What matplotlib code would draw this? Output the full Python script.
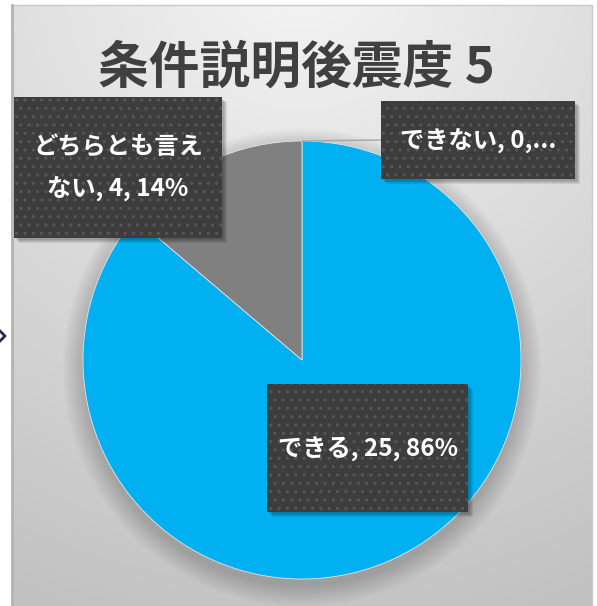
import matplotlib.pyplot as plt
import numpy as np
from matplotlib.patches import Rectangle, Circle, ConnectionPatch

plt.rcParams['font.family'] = ['Noto Sans CJK JP', 'DejaVu Sans']

# データ
title = '条件説明後震度 5'
categories = ['できない', 'できる', 'どちらとも言えない']
counts = [0, 25, 4]
colors = ['#FFC000', '#00B0F0', '#808080']

total = sum(counts)
percents = [round(c / total * 100) for c in counts]

fig = plt.figure(figsize=(5.97, 6.06), dpi=100)

# 背景 (ピクセル座標)
bg = fig.add_axes([0, 0, 1, 1])
bg.set_xlim(0, 597)
bg.set_ylim(606, 0)
bg.axis('off')

yy, xx = np.mgrid[0:606, 12:592]
r = np.hypot(xx - 300, (yy + 40) * 1.0) / 650
grad = np.clip(0.96 - 0.19 * r, 0, 1)
bg.imshow(np.dstack([grad] * 3), extent=[12, 592, 606, 5], aspect='auto', zorder=0)
bg.add_patch(Rectangle((12, 5), 580, 601, fill=False, ec='#c8c8c8', lw=1, zorder=1))
bg.plot([12, 12], [5, 606], color='#b4b4b4', lw=2, zorder=1)
bg.plot([0, 5, 0], [331, 336, 341], color='#1f2d4d', lw=2, zorder=1)

bg.text(296, 68, title, ha='center', va='center', fontsize=36.5,
        fontweight='bold', color='#404040', zorder=2)

# 円グラフ
cx, cy, rad = 302, 360, 219
pad = 1.15
ax = fig.add_axes([(cx - rad * pad) / 597, (606 - cy - rad * pad) / 606,
                   2 * rad * pad / 597, 2 * rad * pad / 606])
ax.axis('off')

# 影
for k in range(10):
    ax.add_patch(Circle((0.0, -0.035), 1.0 + 0.01 * k, color='black',
                        alpha=0.018, lw=0, zorder=0))

ax.pie(counts, colors=colors, startangle=90, counterclock=False, radius=1,
       wedgeprops=dict(edgecolor='#e4e4e4', linewidth=0.6), frame=False)
ax.set_xlim(-pad, pad)
ax.set_ylim(-pad, pad)

# ラベル用の前面レイヤー
top = fig.add_axes([0, 0, 1, 1])
top.set_xlim(0, 597)
top.set_ylim(606, 0)
top.axis('off')

def label_text(i):
    parts = [categories[i], str(counts[i]), f'{percents[i]}%']
    if counts[i] == 0:
        return ', '.join(parts[:2]) + ',...'
    return ', '.join(parts)

labels = [label_text(i) for i in range(len(categories))]
labels[2] = labels[2].replace('言え', '言え\n', 1)

boxes = [(381, 101, 194, 78), (267, 384, 201, 128), (14, 97, 208, 141)]

for (x, y, w, h), txt in zip(boxes, labels):
    for s in range(4):
        top.add_patch(Rectangle((x + 2 + s, y + 2 + s), w, h, color='black',
                                alpha=0.08, lw=0, zorder=3))
    top.add_patch(Rectangle((x, y), w, h, fc='#3d3d3d', ec='none', zorder=4))
    top.add_patch(Rectangle((x, y), w, h, fill=False, hatch='..', ec='#585858',
                            lw=0, zorder=4))
    top.text(x + w / 2, y + h / 2 + 1, txt, ha='center', va='center', fontsize=17.5,
             fontweight='bold', color='white', linespacing=1.88, zorder=5)

con = ConnectionPatch(xyA=(0, 1), coordsA=ax.transData, xyB=(381, 140),
                      coordsB=top.transData, color='#a6a6a6', lw=1, zorder=2)
top.add_artist(con)

fig.savefig('out.png', dpi=100)
